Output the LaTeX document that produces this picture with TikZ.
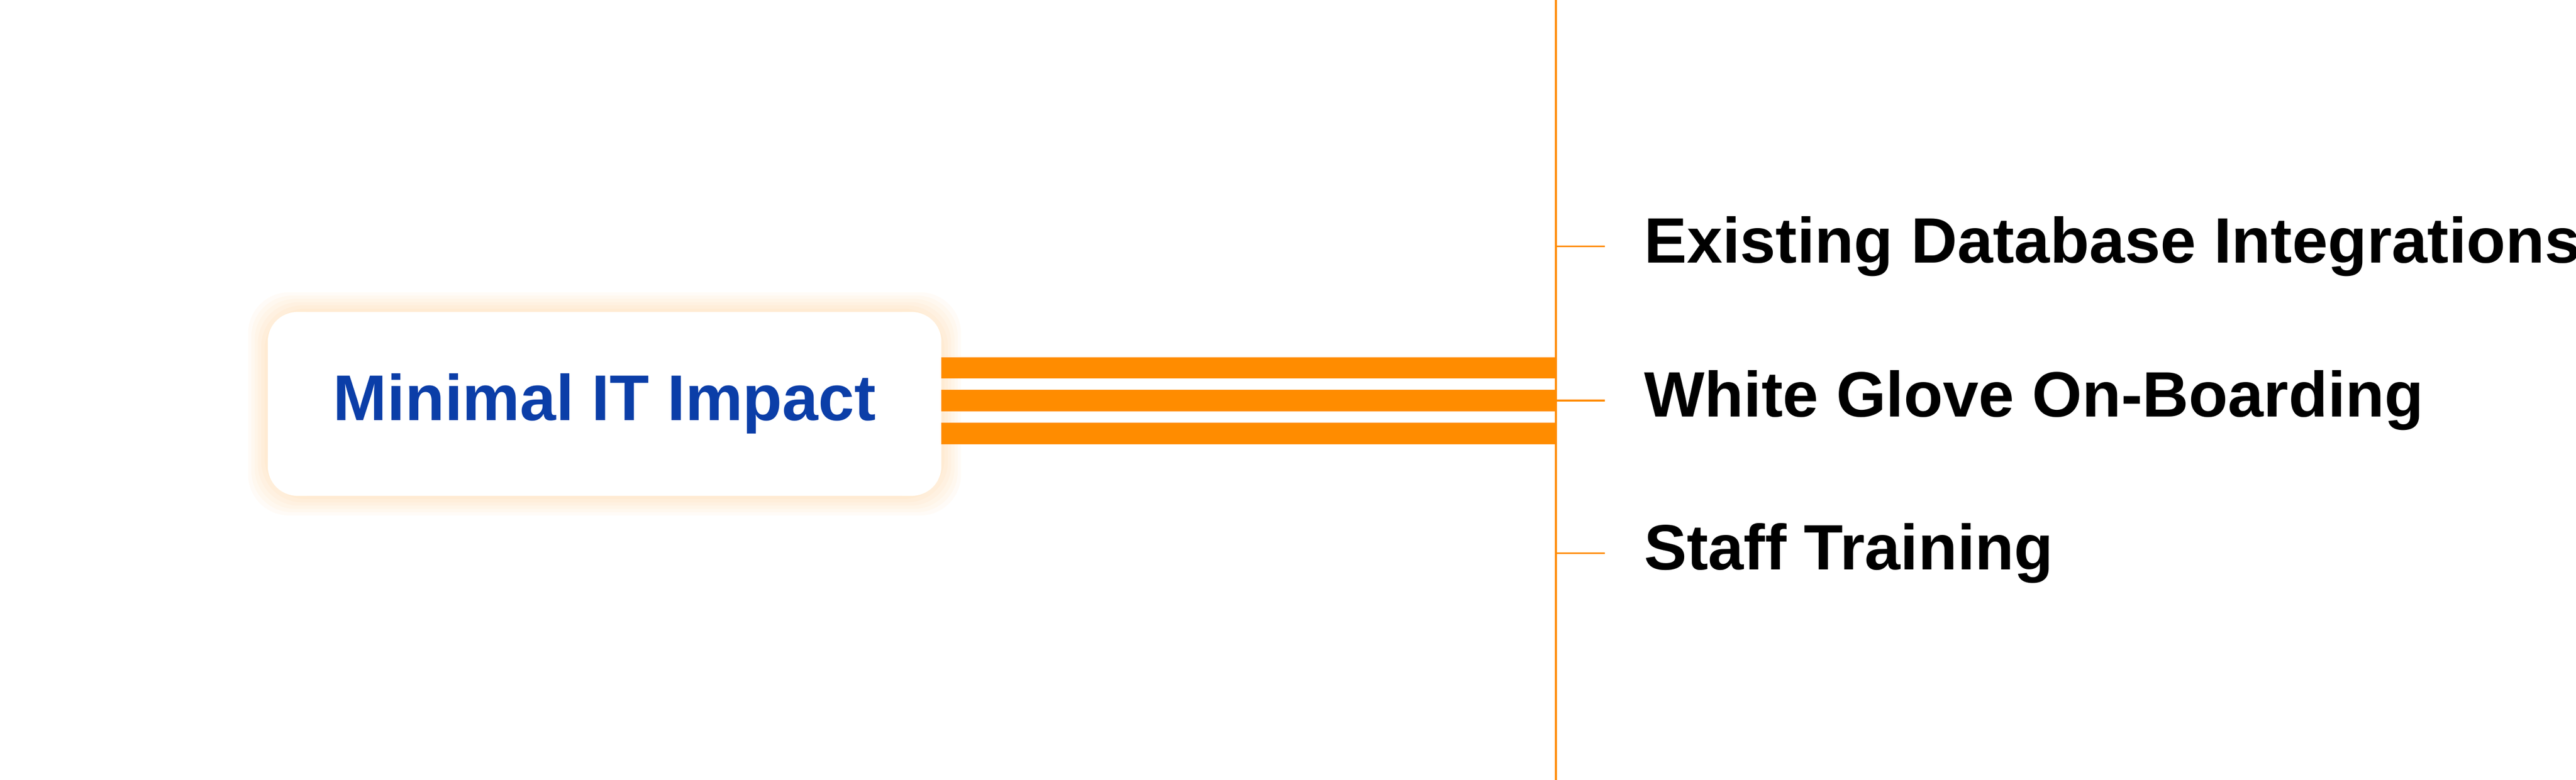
\documentclass[tikz,border=0pt]{standalone}
\usepackage{fontspec}
\setmainfont{Liberation Sans}
\usetikzlibrary{positioning}
\definecolor{barorange}{HTML}{FF8C00}
\definecolor{titleblue}{HTML}{0B3EA8}
\tikzset{%
  mainbox/.style={draw=none, fill=white, rounded corners=0.18cm, minimum width=4.1cm, minimum height=1.12cm, font=\bfseries\fontsize{11.2}{13}\selectfont, text=titleblue},
  itemtext/.style={anchor=west, font=\bfseries\fontsize{11.1}{13}\selectfont, text=black, inner sep=0pt},
  bar/.style={line width=0.13cm, barorange},
  tick/.style={barorange, line width=0.3pt}
}
\begin{document}
\begin{tikzpicture}
  \useasboundingbox (0,0) rectangle (15.68,4.75);
  % glow behind the box
  \foreach \g in {0.12,0.10,...,0.0}
    \fill[barorange, opacity=0.03, rounded corners=0.25cm] (1.63-\g,1.73-\g) rectangle (5.73+\g,2.85+\g);
  \node[mainbox] (imp) at (3.68,2.29) {Minimal IT Impact};
  % spine
  \coordinate (top) at (9.47,4.75);
  \coordinate (bot) at (9.47,0);
  \draw[tick] (top) -- (bot);
  \foreach \y in {2.51,2.31,2.11}
    \draw[bar] (5.73,\y) -- (9.47,\y);
  % branches
  \foreach \y/\name/\txt in {3.25/e/Existing Database Integrations,2.31/w/White Glove On-Boarding,1.38/s/Staff Training}{
    \coordinate (t\name) at (9.47,\y);
    \coordinate (u\name) at (9.77,\y);
    \draw[tick] (t\name) -- (u\name);
    \node[itemtext] (l\name) at (10.0,\y) {\txt};
  }
\end{tikzpicture}
\end{document}
